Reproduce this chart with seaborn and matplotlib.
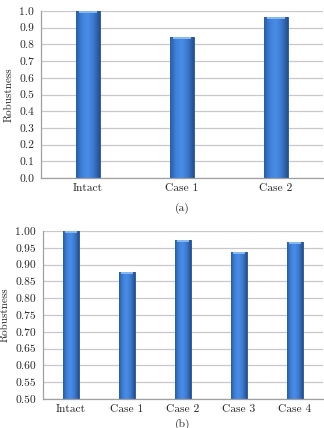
import matplotlib
matplotlib.use("Agg")
import matplotlib.pyplot as plt
from matplotlib.colors import LinearSegmentedColormap
import seaborn as sns
import pandas as pd
import numpy as np

cases_a = ["Intact", "Case 1", "Case 2"]
robust_a = [1.0, 0.845, 0.967]

cases_b = ["Intact", "Case 1", "Case 2", "Case 3", "Case 4"]
robust_b = [1.0, 0.877, 0.973, 0.937, 0.967]

sns.set_style("white")
plt.rcParams["font.family"] = ["cmr10", "DejaVu Serif"]
plt.rcParams["axes.formatter.use_mathtext"] = True

bar_cmap = LinearSegmentedColormap.from_list(
    "barshade", ["#2a5ca6", "#3f82dc", "#4a8ce6", "#3a78cc", "#24508f"])

fig = plt.figure(figsize=(3.24, 4.28), dpi=100)
ax1 = fig.add_axes([41 / 324, 1 - 178 / 428, 282 / 324, 167 / 428])
ax2 = fig.add_axes([43 / 324, 1 - 399 / 428, 280 / 324, 168 / 428])


def draw(ax, cats, vals, width, ylim, step, fmt, label, lpad):
    df = pd.DataFrame({"case": cats, "val": vals})
    sns.barplot(data=df, x="case", y="val", ax=ax, color="#3a78cc",
                width=width, edgecolor="#22508e", linewidth=0.6,
                saturation=1)
    ax.set_ylim(*ylim)
    ticks = np.arange(ylim[0], ylim[1] + step / 2, step)
    ax.set_yticks(ticks)
    ax.set_yticklabels([fmt.format(t) for t in ticks])
    ax.yaxis.grid(True, color="#c8c8c8", linewidth=0.9)
    ax.set_axisbelow(True)
    for s in ["top", "right"]:
        ax.spines[s].set_visible(False)
    for s in ["left", "bottom"]:
        ax.spines[s].set_color("#a0a0a0")
        ax.spines[s].set_linewidth(0.9)
    ax.tick_params(axis="y", length=3, color="#a0a0a0", labelsize=8.3, pad=2)
    ax.tick_params(axis="x", length=0, labelsize=8.3, pad=4)
    ax.set_xlabel(label, fontsize=8.3, labelpad=lpad)
    ax.set_ylabel("Robustness", fontsize=8, labelpad=4)
    # horizontal shading and light cap on each bar
    span = ylim[1] - ylim[0]
    grad = np.linspace(0, 1, 64).reshape(1, -1)
    for p in list(ax.patches):
        x0, w, h = p.get_x(), p.get_width(), p.get_height()
        im = ax.imshow(grad, cmap=bar_cmap, aspect="auto",
                       extent=(x0, x0 + w, ylim[0], h), zorder=2.5)
        im.set_clip_path(p)
        cap = span * 0.012
        ax.fill_between([x0 + w * 0.1, x0 + w * 0.9], h - cap, h,
                        color="#86b8f0", linewidth=0, zorder=3)
    ax.set_xlim(-0.5, len(cats) - 0.5)
    ax.set_ylim(*ylim)


draw(ax1, cases_a, robust_a, 0.25, (0.0, 1.0), 0.1, "{:.1f}", "(a)", 7)
draw(ax2, cases_b, robust_b, 0.27, (0.5, 1.0), 0.05, "{:.2f}", "(b)", 3)

fig.savefig("out.png", dpi=100)
